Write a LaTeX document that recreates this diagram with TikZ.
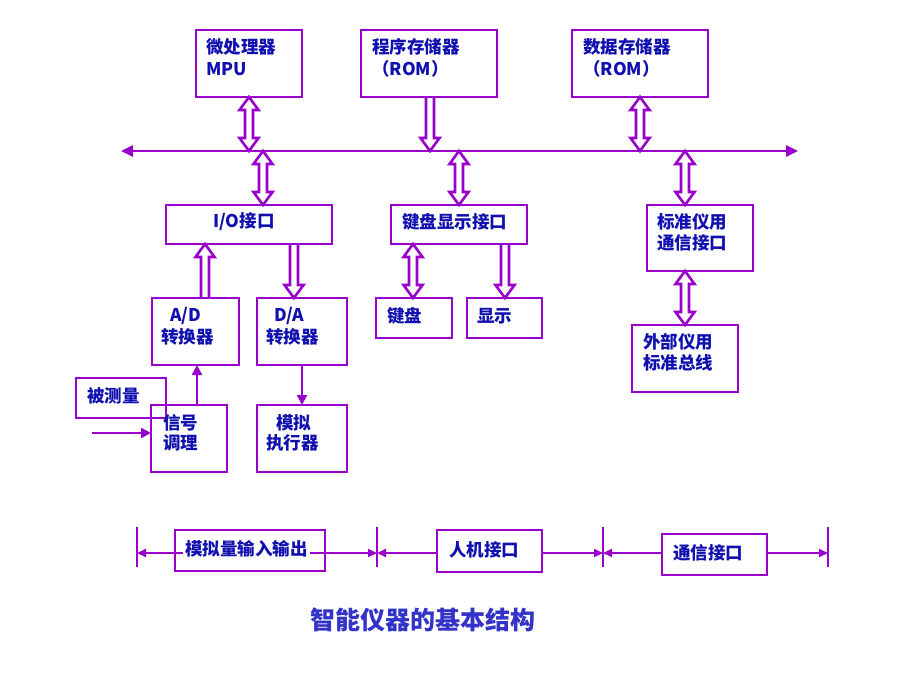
\documentclass[tikz,border=0pt]{standalone}
\usepackage{fontspec}
\setmainfont{Noto Sans CJK SC}
\usetikzlibrary{calc,arrows.meta}
\definecolor{pur}{HTML}{9900CC}
\definecolor{tb}{HTML}{1010B0}
\definecolor{tt}{HTML}{3333C8}
% hollow double-line arrows: both heads, head down, head up
\newcommand\hboth[2]{\draw[hol] let \p1=#1, \p2=#2 in
  (\x1,\y1) -- (\x1+9.5pt,\y1-13pt) -- (\x1+4pt,\y1-13pt) -- (\x1+4pt,\y2+13pt) -- (\x1+9.5pt,\y2+13pt) -- (\x1,\y2)
  -- (\x1-9.5pt,\y2+13pt) -- (\x1-4pt,\y2+13pt) -- (\x1-4pt,\y1-13pt) -- (\x1-9.5pt,\y1-13pt) -- cycle;}
\newcommand\hdown[2]{\draw[hol] let \p1=#1, \p2=#2 in
  (\x1-4pt,\y1) -- (\x1-4pt,\y2+13pt) -- (\x1-9.5pt,\y2+13pt) -- (\x1,\y2) -- (\x1+9.5pt,\y2+13pt) -- (\x1+4pt,\y2+13pt) -- (\x1+4pt,\y1);}
\newcommand\hup[2]{\draw[hol] let \p1=#1, \p2=#2 in
  (\x1-4pt,\y2) -- (\x1-4pt,\y1-13pt) -- (\x1-9.5pt,\y1-13pt) -- (\x1,\y1) -- (\x1+9.5pt,\y1-13pt) -- (\x1+4pt,\y1-13pt) -- (\x1+4pt,\y2);}
\begin{document}
\begin{tikzpicture}[x=1pt,y=-1pt,
  box/.style={draw=pur,line width=2.7pt,anchor=north west,inner sep=0pt,outer sep=0pt},
  txt/.style={anchor=west,inner sep=0pt,text=tb,font=\fontsize{17.5}{20}\selectfont\bfseries},
  hol/.style={draw=pur,line width=2.6pt,line join=miter},
  sarrow/.style={draw=pur,line width=2.3pt,-{Triangle[length=10pt,width=10pt]}},
  busline/.style={draw=pur,line width=2.8pt,{Triangle[length=12pt,width=11pt]}-{Triangle[length=12pt,width=11pt]}},
  barr/.style={draw=pur,line width=2.1pt,{Triangle[length=9pt,width=8pt]}-{Triangle[length=9pt,width=8pt]}},
  tick/.style={draw=pur,line width=2.1pt}]
\useasboundingbox[fill=white] (0,0) rectangle (920,690);

% boxes
\node[box,minimum width=106pt,minimum height=67pt] (mpu) at (196,30) {};
\node[box,minimum width=136pt,minimum height=67pt] (rom) at (361,30) {};
\node[box,minimum width=136pt,minimum height=67pt] (ram) at (572,30) {};
\node[box,minimum width=166pt,minimum height=39pt] (io) at (166,205) {};
\node[box,minimum width=136pt,minimum height=39pt] (kd) at (391,205) {};
\node[box,minimum width=106pt,minimum height=66pt] (std) at (647,205) {};
\node[box,minimum width=87pt,minimum height=67pt] (ad) at (152,298) {};
\node[box,minimum width=90pt,minimum height=67pt] (da) at (257,298) {};
\node[box,minimum width=76pt,minimum height=40pt] (kb) at (376,298) {};
\node[box,minimum width=75pt,minimum height=40pt] (disp) at (467,298) {};
\node[box,minimum width=106pt,minimum height=67pt] (ext) at (632,325) {};
\node[box,minimum width=90pt,minimum height=40pt] (meas) at (76,378) {};
\node[box,minimum width=76pt,minimum height=67pt] (sig) at (151,405) {};
\node[box,minimum width=90pt,minimum height=67pt] (act) at (257,405) {};

% bus
\coordinate (busL) at (121,151);
\coordinate (busR) at (798,151);
\draw[busline] (busL) -- (busR);

% hollow arrows
\hboth{(249,0 |- mpu.south)}{(249,0 |- busL)}
\hdown{(430,0 |- rom.south)}{(430,0 |- busL)}
\hboth{(640,0 |- ram.south)}{(640,0 |- busL)}
\hboth{(263,0 |- busL)}{(263,0 |- io.north)}
\hboth{(459,0 |- busL)}{(459,0 |- kd.north)}
\hboth{(685,0 |- busL)}{(685,0 |- std.north)}
\hup{(205,0 |- io.south)}{(205,0 |- ad.north)}
\hdown{(294,0 |- io.south)}{(294,0 |- da.north)}
\hboth{(413,0 |- kd.south)}{(413,0 |- kb.north)}
\hdown{(505,0 |- kd.south)}{(505,0 |- disp.north)}
\hboth{(685,0 |- std.south)}{(685,0 |- ext.north)}

% thin arrows
\draw[sarrow] (197,0 |- sig.north) -- (197,0 |- ad.south);
\draw[sarrow] (302,0 |- da.south) -- (302,0 |- act.north);
\coordinate (inp) at (92,433);
\draw[sarrow] (inp) -- (inp -| sig.west);

% texts
\node[txt] (t1) at (206,47) {微处理器};
\node[txt] (t2) at (206,69) {MPU};
\node[txt] (t3) at (372,47) {程序存储器};
\node[txt] (t4) at (372,69) {（ROM）};
\node[txt] (t5) at (583,47) {数据存储器};
\node[txt] (t6) at (583,69) {（ROM）};
\node[txt,anchor=center] (t7) at (244,222) {I/O接口};
\node[txt] (t8) at (402,222) {键盘显示接口};
\node[txt] (t9) at (657,222) {标准仪用};
\node[txt] (t10) at (657,243) {通信接口};
\node[txt] (t11) at (170,316) {A/D};
\node[txt] (t12) at (161,337) {转换器};
\node[txt] (t13) at (274,316) {D/A};
\node[txt] (t14) at (266,337) {转换器};
\node[txt] (t15) at (387,316) {键盘};
\node[txt] (t16) at (477,316) {显示};
\node[txt] (t17) at (643,342) {外部仪用};
\node[txt] (t18) at (643,363) {标准总线};
\node[txt] (t19) at (87,396) {被测量};
\node[txt] (t20) at (163,423) {信号};
\node[txt] (t21) at (163,443) {调理};
\node[txt] (t22) at (276,423) {模拟};
\node[txt] (t23) at (266,443) {执行器};

% bottom strip
\coordinate (k1) at (137,553);
\coordinate (k2) at (377,553);
\coordinate (k3) at (603,553);
\coordinate (k4) at (828,553);
\foreach \k in {k1,k2,k3,k4}{\draw[tick] ($(\k)+(0,-26)$) -- ($(\k)+(0,14)$);}
\draw[barr] (k1) -- (k2);
\draw[barr] (k2) -- (k3);
\draw[barr] (k3) -- (k4);
\node[box,minimum width=150pt,minimum height=41pt] (b1) at (175,530) {};
\node[box,fill=white,minimum width=105pt,minimum height=42pt] (b2) at (437,530) {};
\node[box,fill=white,minimum width=105pt,minimum height=41pt] (b3) at (662,534) {};
\node[txt,fill=white,inner sep=2pt] (t24) at (183,549) {模拟量输入输出};
\node[txt] (t25) at (449,550) {人机接口};
\node[txt] (t26) at (673,553) {通信接口};

% title
\node[text=tt,font=\fontsize{25}{28}\selectfont\bfseries,inner sep=0pt] (title) at (423,620) {智能仪器的基本结构};
\end{tikzpicture}
\end{document}
